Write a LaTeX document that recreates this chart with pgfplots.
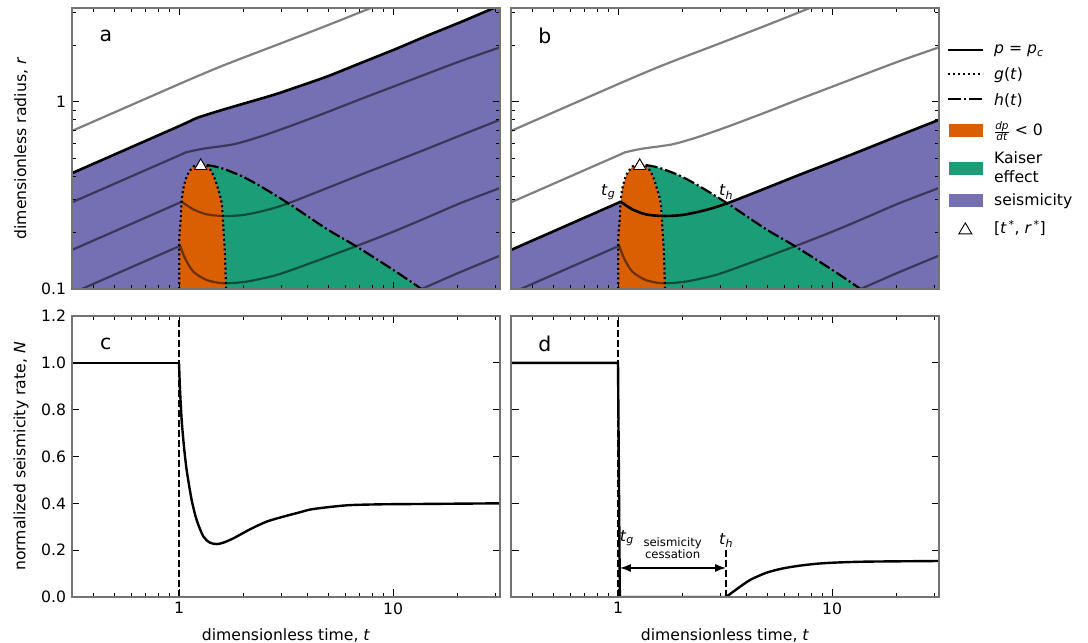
\documentclass[border=0pt]{standalone}
\usepackage{pgfplots}
\usepackage{pgfplotstable}
\usepackage{fontspec}
\usetikzlibrary{arrows.meta}
\setmainfont{DejaVu Sans}
\pgfplotsset{compat=1.18}
\definecolor{dOrange}{HTML}{D95F02}
\definecolor{dGreen}{HTML}{1B9E77}
\definecolor{dPurple}{HTML}{7570B3}

\pgfplotstableread{
t r
0.316 0.6975
1.0 1.24
1.5 1.51
2.0 1.718
3.0 2.05
5.0 2.57
7.81 3.15
9.0 3.375
}\tCgray
\pgfplotstableread{
t r
0.316 0.415
1.0 0.74
1.2 0.815
1.5 0.885
1.86 0.952
2.76 1.086
3.42 1.179
4.90 1.36
7.01 1.602
10.04 1.888
14.36 2.243
20.56 2.65
29.4 3.15
31.6 3.26
}\tCblack
\pgfplotstableread{
t r
0.316 0.290
1.0 0.516
1.086 0.537
1.30 0.561
1.795 0.592
2.39 0.650
3.42 0.751
4.90 0.877
7.01 1.029
10.04 1.203
14.36 1.406
20.56 1.642
31.6 1.95
}\tCtwo
\pgfplotstableread{
t r
0.316 0.1615
1.0 0.288
1.029 0.2926
}\tCthreeA
\pgfplotstableread{
t r
1.029 0.2926
1.167 0.266
1.347 0.2504
1.611 0.2453
2.0 0.2484
2.57 0.264
3.24 0.2867
4.90 0.345
7.01 0.406
10.04 0.476
14.36 0.559
20.56 0.659
31.6 0.80
}\tCthreeB
\pgfplotstableread{
t r
0.351 0.1
1.0 0.169
1.01 0.1717
}\tCfourA
\pgfplotstableread{
t r
1.01 0.1717
1.067 0.1458
1.167 0.1237
1.347 0.1117
1.611 0.1073
2.07 0.1095
2.86 0.1188
4.09 0.1371
6.77 0.1697
10.04 0.2024
14.36 0.2403
20.56 0.2867
31.6 0.346
}\tCfourB
\pgfplotstableread{
t r
13.6 0.1
20.0 0.1213
31.6 0.1507
}\tCfive
\pgfplotstableread{
t r
1.003 0.1
1.003 0.1826
1.018 0.2335
1.029 0.2926
1.048 0.3447
1.094 0.406
1.167 0.4498
1.254 0.4649
1.357 0.4536
1.447 0.406
1.527 0.3378
1.583 0.2867
1.611 0.2151
1.641 0.1487
1.658 0.1
}\tGt
\pgfplotstableread{
t r
1.347 0.459
1.554 0.444
1.928 0.4044
2.39 0.3548
3.24 0.2867
4.90 0.2091
6.77 0.1683
10.04 0.1263
13.6 0.1
}\tHt
\pgfplotstableread{
t r
1.658 0.1
1.641 0.1487
1.611 0.2151
1.583 0.2867
1.527 0.3378
1.447 0.406
1.357 0.4536
1.30 0.462
1.347 0.459
1.554 0.444
1.928 0.4044
2.39 0.3548
3.24 0.2867
4.90 0.2091
6.77 0.1683
10.04 0.1263
13.6 0.1
}\tGreen
\pgfplotstableread{
t r
0.316 0.415
1.0 0.74
1.2 0.815
1.5 0.885
1.86 0.952
2.76 1.086
3.42 1.179
4.90 1.36
7.01 1.602
10.04 1.888
14.36 2.243
20.56 2.65
29.4 3.15
31.6 3.26
31.6 0.1
0.316 0.1
}\tPurpleA
\pgfplotstableread{
t r
0.316 0.1615
1.0 0.288
1.029 0.2926
1.167 0.266
1.347 0.2504
1.611 0.2453
2.0 0.2484
2.57 0.264
3.24 0.2867
4.90 0.345
7.01 0.406
10.04 0.476
14.36 0.559
20.56 0.659
31.6 0.80
31.6 0.1
0.316 0.1
}\tPurpleB
\pgfplotstableread{
t r
1.263 0.454
}\tStar
\pgfplotstableread{
t N
0.316 1.0
1.0 1.0
}\tNcA
\pgfplotstableread{
t N
1.0 1.0
1.011 0.884
1.029 0.756
1.055 0.642
1.086 0.542
1.146 0.414
1.209 0.329
1.30 0.258
1.396 0.232
1.50 0.226
1.611 0.232
1.795 0.2505
2.147 0.289
2.57 0.322
3.07 0.343
3.68 0.362
4.24 0.3757
6.08 0.3915
8.7 0.3957
12.4 0.397
31.6 0.400
}\tNcB
\pgfplotstableread{
t N
0.316 1.0
1.0 1.0
1.02 0.0
3.2 0.0
}\tNdA
\pgfplotstableread{
t N
3.2 0.0
3.58 0.033
4.14 0.0726
4.95 0.104
5.92 0.1224
7.09 0.134
8.48 0.142
10.14 0.1466
14.5 0.151
31.6 0.1537
}\tNdB

\pgfplotsset{
    scale only axis, width=428bp, height=281bp,
    log basis x=10,
    xmin=0.31623, xmax=31.623,
    xtick={1,10},
    minor xtick={0.4,0.5,0.6,0.7,0.8,0.9,2,3,4,5,6,7,8,9,20,30},
    tick align=inside,
    major tick length=7.5bp, minor tick length=4bp,
    tick style={black, line width=0.9bp},
    axis line style={draw=gray!90!black, line width=1.6bp},
    axis on top,
    ticklabel style={font=\fontsize{15.7}{17}\selectfont},
    label style={font=\fontsize{15.7}{17}\selectfont},
    xticklabel style={yshift=-2bp},
    yticklabel style={xshift=-2.5bp},
    ylabel style={at={(axis description cs:-0.119,0.5)}, anchor=center},
    xlabel style={yshift=-7bp},
  myContour/.style={no marks, black, opacity=0.5, line width=2.2bp, forget plot},
  mySmooth/.style={smooth, tension=0.45},
  myPc/.style={no marks, black, line width=2.6bp, forget plot},
  myG/.style={no marks, black, line width=2.2bp, dash pattern=on 2bp off 2.8bp, forget plot},
  myH/.style={no marks, black, line width=2.2bp, dash pattern=on 12bp off 3bp on 2bp off 3bp, forget plot},
  myV/.style={no marks, black, line width=2.2bp, dash pattern=on 7bp off 3bp, forget plot},
  myStar/.style={only marks, mark=triangle*, mark size=7.1bp, mark options={fill=white, draw=black, line width=0.9bp}, forget plot},
}

\begin{document}
\begin{tikzpicture}
\path[use as bounding box] (0bp,0bp) rectangle (1088bp,643bp);

% ---------- a
\begin{axis}[at={(72bp,354bp)}, anchor=south west, xmode=log,
  ymode=log, log basis y=10, ymin=0.1, ymax=3.1623,
  ytick={0.1,1},
  minor ytick={0.2,0.3,0.4,0.5,0.6,0.7,0.8,0.9,2,3},
  xticklabels={,,},
  yticklabels={0.1,1},
  ylabel={dimensionless radius, \textit{r}},
]
\addplot[fill=dPurple, draw=none, forget plot] table {\tPurpleA};
\addplot[fill=dGreen, draw=none, forget plot] table {\tGreen};
\addplot[fill=dOrange, draw=none, forget plot] table {\tGt};
\addplot[myContour, mySmooth] table {\tCgray};
\addplot[myContour, mySmooth] table {\tCtwo};
\addplot[myContour] table {\tCthreeA};
\addplot[myContour, mySmooth] table {\tCthreeB};
\addplot[myContour] table {\tCfourA};
\addplot[myContour, mySmooth] table {\tCfourB};
\addplot[myContour] table {\tCfive};
\addplot[myPc, mySmooth] table {\tCblack};
\addplot[myG, mySmooth] table {\tGt};
\addplot[myH, mySmooth] table {\tHt};
\addplot[myStar] table {\tStar};
\node[font=\fontsize{20.5}{22}\selectfont] at (axis description cs:0.079,0.90) {a};
\end{axis}

% ---------- b (with the legend)
\begin{axis}[at={(511bp,354bp)}, anchor=south west, xmode=log,
  ymode=log, log basis y=10, ymin=0.1, ymax=3.1623,
  ytick={0.1,1},
  minor ytick={0.2,0.3,0.4,0.5,0.6,0.7,0.8,0.9,2,3},
  xticklabels={,,},
  yticklabels={,},
  legend cell align=left,
  legend style={draw=none, fill=none, at={(1.0,0.879)}, anchor=north west, xshift=7.5bp,
    font=\fontsize{15.7}{17}\selectfont, inner sep=0pt, outer sep=0pt,
    nodes={inner sep=0pt, text depth=}},
]
\addplot[fill=dPurple, draw=none, forget plot] table {\tPurpleB};
\addplot[fill=dGreen, draw=none, forget plot] table {\tGreen};
\addplot[fill=dOrange, draw=none, forget plot] table {\tGt};
\addplot[myContour, mySmooth] table {\tCgray};
\addplot[myContour, mySmooth] table {\tCtwo};
\addplot[myContour] table {\tCfourA};
\addplot[myContour, mySmooth] table {\tCfourB};
\addplot[myContour] table {\tCfive};
\addplot[myPc] table {\tCthreeA};
\addplot[myPc, mySmooth] table {\tCthreeB};
\addplot[myG, mySmooth] table {\tGt};
\addplot[myH, mySmooth] table {\tHt};
\addplot[myStar] table {\tStar};
\node[font=\fontsize{20.5}{22}\selectfont] at (axis description cs:0.079,0.90) {b};
\node[font=\fontsize{15.7}{17}\selectfont] at (axis cs:0.9,0.33) {\textit{t}\textsubscript{\textit{g}}};
\node[font=\fontsize{15.7}{17}\selectfont] at (axis cs:3.2,0.33) {\textit{t}\textsubscript{\textit{h}}};
\addlegendimage{legend image code/.code={\draw[black, line width=2.6bp] (0bp,-2bp) -- (35bp,-2bp);}}
\addlegendentry{\rule{0pt}{12bp}\hspace*{10bp}\smash{\textit{p} = \textit{p}\textsubscript{\textit{c}}}}
\addlegendimage{legend image code/.code={\draw[black, line width=2.2bp, dash pattern=on 2bp off 3bp] (0bp,-7.5bp) -- (35bp,-7.5bp);}}
\addlegendentry{\rule{0pt}{25.5bp}\hspace*{10bp}\smash{\textit{g}(\textit{t})}}
\addlegendimage{legend image code/.code={\draw[black, line width=2.2bp, dash pattern=on 13bp off 3bp on 2bp off 3bp] (0bp,-6.25bp) -- (35bp,-6.25bp);}}
\addlegendentry{\rule{0pt}{26.5bp}\hspace*{10bp}\smash{\textit{h}(\textit{t})}}
\addlegendimage{legend image code/.code={\fill[dOrange] (1bp,-15bp) rectangle (34bp,-3bp);}}
\addlegendentry{\rule{0pt}{30bp}\hspace*{10bp}\smash{$\frac{\mbox{\fontsize{10.5}{10.5}\selectfont\textit{dp}}}{\mbox{\fontsize{10.5}{10.5}\selectfont\textit{dt}}}$ < 0}}
\addlegendimage{legend image code/.code={\fill[dGreen] (1bp,-15bp) rectangle (34bp,-3bp);}}
\addlegendentry{\rule{0pt}{46bp}\hspace*{10bp}\smash{\begin{tabular}[b]{@{}l@{}}Kaiser\\[1.7pt]effect\end{tabular}}}
\addlegendimage{legend image code/.code={\fill[dPurple] (1bp,-12.5bp) rectangle (34bp,-0.5bp);}}
\addlegendentry{\rule{0pt}{23bp}\hspace*{10bp}\smash{seismicity}}
\addlegendimage{legend image code/.code={\draw[black, fill=white, line width=0.9bp] (11bp,-14bp) -- (24bp,-14bp) -- (17.5bp,-3bp) -- cycle;}}
\addlegendentry{\rule{0pt}{27bp}\hspace*{10bp}\smash{[\textit{t}\textsuperscript{\,*}, \textit{r}\textsuperscript{\,*}]}}
\end{axis}

% ---------- c
\begin{axis}[at={(72bp,46bp)}, anchor=south west, xmode=log,
  ymin=0, ymax=1.2,
  ytick={0,0.2,0.4,0.6,0.8,1.0,1.2},
  xticklabels={1,10},
  yticklabels={0.0,0.2,0.4,0.6,0.8,1.0,1.2},
  xlabel={dimensionless time, \textit{t}},
  ylabel={normalized seismicity rate, \textit{N}},
]
\addplot[myV] coordinates {(1,0) (1,1.2)};
\addplot[no marks, black, line width=2.4bp, forget plot] table {\tNcA};
\addplot[no marks, black, line width=2.4bp, forget plot, mySmooth] table {\tNcB};
\node[font=\fontsize{20.5}{22}\selectfont] at (axis description cs:0.079,0.90) {c};
\end{axis}

% ---------- d
\begin{axis}[at={(511bp,46bp)}, anchor=south west, xmode=log,
  ymin=0, ymax=1.2,
  ytick={0,0.2,0.4,0.6,0.8,1.0,1.2},
  xticklabels={1,10},
  yticklabels={,},
  xlabel={dimensionless time, \textit{t}},
]
\addplot[myV] coordinates {(1,0) (1,1.2)};
\addplot[myV] coordinates {(3.2,0) (3.2,0.2)};
\addplot[no marks, black, line width=2.4bp, forget plot] table {\tNdA};
\addplot[no marks, black, line width=2.4bp, forget plot, mySmooth] table {\tNdB};
\draw[{Latex[length=11bp,width=8bp]}-{Latex[length=11bp,width=8bp]}, black, line width=1.5bp] (axis cs:1.02,0.124) -- (axis cs:3.2,0.124);
\node[font=\fontsize{20.5}{22}\selectfont] at (axis description cs:0.079,0.90) {d};
\node[font=\fontsize{15.7}{17}\selectfont] at (axis cs:1.1,0.25) {\textit{t}\textsubscript{\textit{g}}};
\node[font=\fontsize{15.7}{17}\selectfont] at (axis cs:3.2,0.24) {\textit{t}\textsubscript{\textit{h}}};
\node[font=\fontsize{11.7}{12}\selectfont, align=center] at (axis cs:1.80,0.209) {seismicity\\cessation};
\end{axis}
\end{tikzpicture}
\end{document}
